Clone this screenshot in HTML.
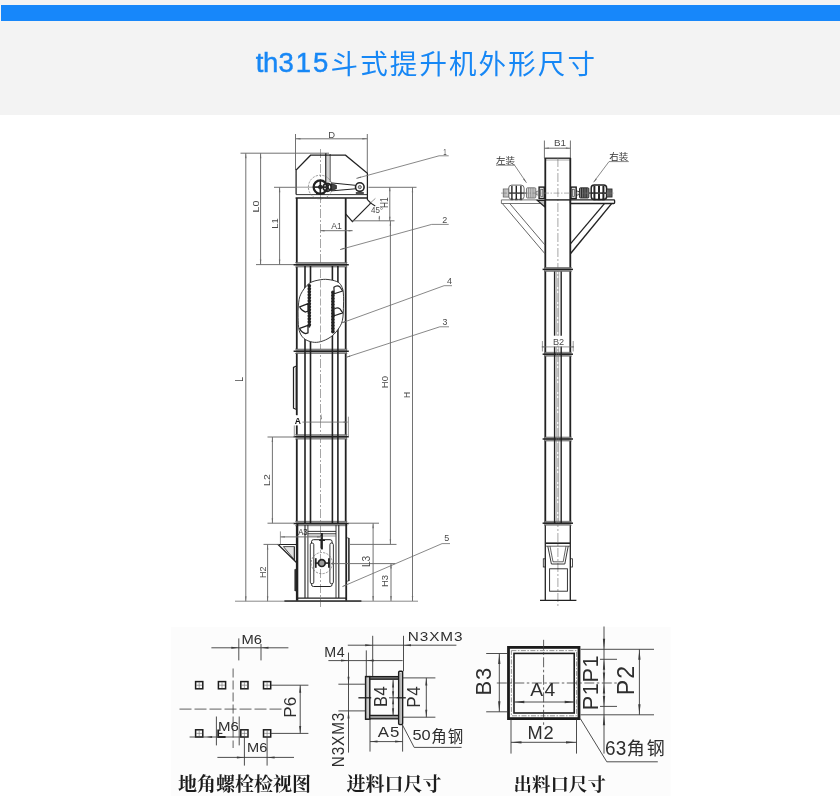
<!DOCTYPE html>
<html lang="zh-CN">
<head>
<meta charset="utf-8">
<title>th315斗式提升机外形尺寸</title>
<style>
html,body{margin:0;padding:0;background:#fff;}
body{width:840px;height:808px;overflow:hidden;position:relative;font-family:"Liberation Sans",sans-serif;}
.head{position:absolute;left:0;top:0;width:840px;height:115px;background:#f3f3f3;}
.bar{position:absolute;left:1px;top:5px;width:839px;height:16px;background:#1787fa;}
.title{position:absolute;left:0;top:0;width:840px;height:115px;}
.drawing{position:absolute;left:0;top:0;width:840px;height:808px;}
svg text{font-family:"Liberation Sans",sans-serif;}
</style>
</head>
<body>
<div class="head">
<div class="bar"></div>
<svg class="title" width="840" height="115" viewBox="0 0 840 115" role="img" aria-label="th315斗式提升机外形尺寸">
<title>th315斗式提升机外形尺寸</title>
<defs><filter id="hsoft" x="-2%" y="-10%" width="104%" height="120%"><feGaussianBlur stdDeviation="0.25"/></filter></defs>
<g filter="url(#hsoft)">
<text x="255.8 262.9 278.5 295.8 313.1" y="72.2" font-family="'Liberation Sans', sans-serif" font-size="27.5" fill="#1987f5" stroke="#1987f5" stroke-width="0.45">th315</text>
<text x="330.6" y="73.6" font-size="27.5" letter-spacing="2.1" fill="#1987f5" style="font-family:'Liberation Sans','Noto Sans CJK SC',sans-serif">斗式提升机外形尺寸</text>
</g>
</svg>
</div>
<svg class="drawing" width="840" height="808" viewBox="0 0 840 808">
<defs><filter id="soft" x="-2%" y="-2%" width="104%" height="104%"><feGaussianBlur stdDeviation="0.3"/></filter><filter id="tsoft" x="-2%" y="-2%" width="104%" height="104%"><feGaussianBlur stdDeviation="0.22"/></filter></defs>
<g filter="url(#soft)">
<line x1="295.5" y1="134" x2="295.5" y2="170" stroke="#6a6a6a" stroke-width="0.95"/>
<line x1="367.3" y1="134" x2="367.3" y2="173" stroke="#6a6a6a" stroke-width="0.95"/>
<line x1="295.5" y1="138.8" x2="367.3" y2="138.8" stroke="#6a6a6a" stroke-width="0.95"/>
<polygon points="295.5,138.8 300.5,138.1 300.5,139.5" fill="#6a6a6a"/>
<polygon points="367.3,138.8 362.3,139.5 362.3,138.1" fill="#6a6a6a"/>
<line x1="240.5" y1="153.2" x2="329" y2="153.2" stroke="#6a6a6a" stroke-width="0.95"/>
<line x1="274" y1="187.3" x2="295.5" y2="187.3" stroke="#6a6a6a" stroke-width="0.95"/>
<line x1="368.5" y1="187.3" x2="416.5" y2="187.3" stroke="#6a6a6a" stroke-width="0.95"/>
<line x1="256" y1="264.6" x2="295" y2="264.6" stroke="#6a6a6a" stroke-width="0.95"/>
<line x1="245.8" y1="153.2" x2="245.8" y2="601.2" stroke="#6a6a6a" stroke-width="0.95"/>
<polygon points="245.8,153.2 246.5,158.2 245.1,158.2" fill="#6a6a6a"/>
<polygon points="245.8,601.2 245.1,596.2 246.5,596.2" fill="#6a6a6a"/>
<line x1="260.6" y1="153.2" x2="260.6" y2="264.6" stroke="#6a6a6a" stroke-width="0.95"/>
<polygon points="260.6,153.2 261.3,158.2 259.9,158.2" fill="#6a6a6a"/>
<polygon points="260.6,264.6 259.9,259.6 261.3,259.6" fill="#6a6a6a"/>
<line x1="279.6" y1="187.3" x2="279.6" y2="264.6" stroke="#6a6a6a" stroke-width="0.95"/>
<polygon points="279.6,187.3 280.3,192.3 278.9,192.3" fill="#6a6a6a"/>
<polygon points="279.6,264.6 278.9,259.6 280.3,259.6" fill="#6a6a6a"/>
<line x1="320.5" y1="149" x2="320.5" y2="607" stroke="#6a6a6a" stroke-width="0.6" stroke-dasharray="9 2 2 2"/>
<polyline points="296.1,194.6 296.1,170 310.6,155.2 345.5,155.2 367.4,173.2 367.4,199.6 370.8,203.1 352.4,221.6 345.4,213.7" fill="none" stroke="#222222" stroke-width="1.25" stroke-linejoin="miter"/>
<line x1="296" y1="194.6" x2="367.2" y2="194.6" stroke="#222222" stroke-width="0.9"/>
<line x1="295.6" y1="198" x2="367.5" y2="198" stroke="#222222" stroke-width="1.5"/>
<line x1="325.8" y1="153.3" x2="325.8" y2="182" stroke="#222222" stroke-width="1.3"/>
<line x1="328" y1="154" x2="328" y2="182" stroke="#6a6a6a" stroke-width="0.6"/>
<line x1="330.1" y1="154" x2="330.1" y2="182" stroke="#222222" stroke-width="0.9"/>
<circle cx="320.3" cy="187.1" r="11.9" fill="none" stroke="#6a6a6a" stroke-width="0.7" stroke-dasharray="2.2 1.2"/>
<line x1="296" y1="187.2" x2="313" y2="187.2" stroke="#6a6a6a" stroke-width="0.7"/>
<circle cx="320.3" cy="187.1" r="6.7" fill="none" stroke="#222222" stroke-width="2.2"/>
<circle cx="320.3" cy="187.1" r="1.9" fill="#888" stroke="#222222" stroke-width="1.0"/>
<line x1="320.3" y1="180.4" x2="320.3" y2="193.8" stroke="#222222" stroke-width="1.6"/>
<line x1="313.6" y1="187.1" x2="327" y2="187.1" stroke="#222222" stroke-width="1.6"/>
<line x1="316" y1="193.6" x2="324.6" y2="193.6" stroke="#222222" stroke-width="1.6"/>
<circle cx="327.2" cy="187.3" r="4" fill="none" stroke="#222222" stroke-width="1.8"/>
<circle cx="327.2" cy="187.3" r="1.1" fill="#666" stroke="#222222" stroke-width="0.8"/>
<line x1="327.2" y1="183.4" x2="327.2" y2="191.2" stroke="#222222" stroke-width="1.0"/>
<circle cx="330.6" cy="187.1" r="2.7" fill="none" stroke="#222222" stroke-width="1.4"/>
<line x1="331.2" y1="182.9" x2="355.4" y2="185.3" stroke="#222222" stroke-width="1.0"/>
<line x1="331.2" y1="190.9" x2="355.4" y2="188.8" stroke="#222222" stroke-width="1.0"/>
<polygon points="331.4,183.6 336.4,185.4 336.4,188.8 331.4,190.4" fill="#444" stroke="#222222" stroke-width="0.8" stroke-linejoin="miter"/>
<circle cx="359.8" cy="187.1" r="4.3" fill="none" stroke="#222222" stroke-width="1.6"/>
<circle cx="359.8" cy="187.1" r="1.6" fill="#bbb" stroke="#555" stroke-width="0.9"/>
<line x1="355.8" y1="193" x2="363.8" y2="193" stroke="#222222" stroke-width="1.6"/>
<line x1="369" y1="204.2" x2="375.4" y2="198.4" stroke="#6a6a6a" stroke-width="0.7"/>
<line x1="370.8" y1="203.1" x2="375.2" y2="206" stroke="#222222" stroke-width="1.1"/>
<line x1="379.3" y1="216" x2="379.3" y2="221" stroke="#6a6a6a" stroke-width="0.7"/>
<polygon points="379.3,215.2 379.95,218.7 378.65,218.7" fill="#6a6a6a"/>
<line x1="352.4" y1="220.8" x2="394.5" y2="220.8" stroke="#6a6a6a" stroke-width="0.95"/>
<line x1="296.8" y1="198" x2="296.8" y2="415.2" stroke="#222222" stroke-width="1.8"/>
<line x1="296.8" y1="425.4" x2="296.8" y2="601" stroke="#222222" stroke-width="1.8"/>
<line x1="345.7" y1="198" x2="345.7" y2="523" stroke="#222222" stroke-width="1.8"/>
<line x1="320.5" y1="230.7" x2="352.6" y2="230.7" stroke="#6a6a6a" stroke-width="0.95"/>
<polygon points="320.5,230.7 324.5,230 324.5,231.4" fill="#6a6a6a"/>
<polygon points="352.6,230.7 348.6,231.4 348.6,230" fill="#6a6a6a"/>
<rect x="296" y="262.5" width="50.2" height="4.5" fill="#9a9a9a"/>
<line x1="293.6" y1="264.7" x2="348.8" y2="264.7" stroke="#222222" stroke-width="1.5"/>
<line x1="295" y1="262.6" x2="347.4" y2="262.6" stroke="#555" stroke-width="0.6"/>
<line x1="295" y1="267" x2="347.4" y2="267" stroke="#555" stroke-width="0.6"/>
<rect x="296" y="349" width="50.2" height="4.5" fill="#9a9a9a"/>
<line x1="293.6" y1="351.2" x2="348.8" y2="351.2" stroke="#222222" stroke-width="1.5"/>
<line x1="295" y1="349.1" x2="347.4" y2="349.1" stroke="#555" stroke-width="0.6"/>
<line x1="295" y1="353.5" x2="347.4" y2="353.5" stroke="#555" stroke-width="0.6"/>
<rect x="296" y="434.6" width="50.2" height="4.5" fill="#9a9a9a"/>
<line x1="293.6" y1="436.8" x2="348.8" y2="436.8" stroke="#222222" stroke-width="1.5"/>
<line x1="295" y1="434.7" x2="347.4" y2="434.7" stroke="#555" stroke-width="0.6"/>
<line x1="295" y1="439.1" x2="347.4" y2="439.1" stroke="#555" stroke-width="0.6"/>
<rect x="296" y="521.2" width="50.2" height="4.5" fill="#9a9a9a"/>
<line x1="293.6" y1="523.4" x2="348.8" y2="523.4" stroke="#222222" stroke-width="1.5"/>
<line x1="295" y1="521.3" x2="347.4" y2="521.3" stroke="#555" stroke-width="0.6"/>
<line x1="295" y1="525.7" x2="347.4" y2="525.7" stroke="#555" stroke-width="0.6"/>
<line x1="305" y1="266" x2="305" y2="523" stroke="#222222" stroke-width="1.6"/>
<line x1="310.5" y1="266" x2="310.5" y2="523" stroke="#222222" stroke-width="1.6"/>
<line x1="332.4" y1="266" x2="332.4" y2="523" stroke="#222222" stroke-width="1.6"/>
<line x1="337.9" y1="266" x2="337.9" y2="523" stroke="#222222" stroke-width="1.6"/>
<path d="M320.8 279.7 C317.3 280.3 312.53 280.98 309.2 283.4 C305.87 285.82 302.6 290.6 300.8 294.2 C299 297.8 298.85 301.12 298.4 305 C297.95 308.88 297.97 313.25 298.1 317.5 C298.23 321.75 298.23 327.02 299.2 330.5 C300.17 333.98 301.7 336.47 303.9 338.4 C306.1 340.33 309.58 341.57 312.4 342.1 C315.22 342.63 317.83 342.4 320.8 341.6 C323.77 340.8 327.4 339.23 330.2 337.3 C333 335.37 335.57 332.8 337.6 330 C339.63 327.2 341.42 324.67 342.4 320.5 C343.38 316.33 343.33 309.42 343.5 305 C343.67 300.58 343.62 296.9 343.4 294 C343.18 291.1 343.03 289.53 342.2 287.6 C341.37 285.67 340.4 283.7 338.4 282.4 C336.4 281.1 333.13 280.25 330.2 279.8 C327.27 279.35 324.3 279.1 320.8 279.7Z" fill="#fff" stroke="#222222" stroke-width="0.9"/>
<line x1="320.5" y1="280.5" x2="320.5" y2="341.5" stroke="#888" stroke-width="0.7" stroke-dasharray="7 2"/>
<line x1="309.3" y1="284.6" x2="309.3" y2="327.6" stroke="#222222" stroke-width="1.6"/>
<circle cx="309.3" cy="285.8" r="1.85" fill="#222222"/>
<circle cx="309.3" cy="288.8" r="1.85" fill="#222222"/>
<circle cx="309.3" cy="291.8" r="1.85" fill="#222222"/>
<circle cx="309.3" cy="294.8" r="1.85" fill="#222222"/>
<circle cx="309.3" cy="297.8" r="1.85" fill="#222222"/>
<circle cx="309.3" cy="300.8" r="1.85" fill="#222222"/>
<circle cx="309.3" cy="303.8" r="1.85" fill="#222222"/>
<circle cx="309.3" cy="306.8" r="1.85" fill="#222222"/>
<circle cx="309.3" cy="309.8" r="1.85" fill="#222222"/>
<circle cx="309.3" cy="312.8" r="1.85" fill="#222222"/>
<circle cx="309.3" cy="315.8" r="1.85" fill="#222222"/>
<circle cx="309.3" cy="318.8" r="1.85" fill="#222222"/>
<circle cx="309.3" cy="321.8" r="1.85" fill="#222222"/>
<circle cx="309.3" cy="324.8" r="1.85" fill="#222222"/>
<line x1="332.9" y1="291.2" x2="332.9" y2="333.2" stroke="#222222" stroke-width="1.6"/>
<circle cx="332.9" cy="292.4" r="1.85" fill="#222222"/>
<circle cx="332.9" cy="295.4" r="1.85" fill="#222222"/>
<circle cx="332.9" cy="298.4" r="1.85" fill="#222222"/>
<circle cx="332.9" cy="301.4" r="1.85" fill="#222222"/>
<circle cx="332.9" cy="304.4" r="1.85" fill="#222222"/>
<circle cx="332.9" cy="307.4" r="1.85" fill="#222222"/>
<circle cx="332.9" cy="310.4" r="1.85" fill="#222222"/>
<circle cx="332.9" cy="313.4" r="1.85" fill="#222222"/>
<circle cx="332.9" cy="316.4" r="1.85" fill="#222222"/>
<circle cx="332.9" cy="319.4" r="1.85" fill="#222222"/>
<circle cx="332.9" cy="322.4" r="1.85" fill="#222222"/>
<circle cx="332.9" cy="325.4" r="1.85" fill="#222222"/>
<circle cx="332.9" cy="328.4" r="1.85" fill="#222222"/>
<circle cx="332.9" cy="331.4" r="1.85" fill="#222222"/>
<path d="M308 303.7 L299.7 306.8 Q301.4 310.8 305.6 312 L308 311.2 Z" fill="#fff" stroke="#222222" stroke-width="1.3" stroke-linejoin="round"/>
<path d="M308 325.3 L299.7 328.4 Q301.4 332.4 305.6 333.6 L308 332.8 Z" fill="#fff" stroke="#222222" stroke-width="1.3" stroke-linejoin="round"/>
<path d="M333.9 287.3 Q337.2 284.6 340 287 L342.7 291 L334.2 293.8 Z" fill="#fff" stroke="#222222" stroke-width="1.2" stroke-linejoin="round"/>
<path d="M333.9 309.2 Q337.2 306.5 340 308.9 L342.7 312.9 L334.2 315.7 Z" fill="#fff" stroke="#222222" stroke-width="1.2" stroke-linejoin="round"/>
<polyline points="296.4,366 293.5,367.4 293.5,408.2 296.4,409.4" fill="none" stroke="#222222" stroke-width="1.2" stroke-linejoin="miter"/>
<line x1="295.5" y1="367.6" x2="295.5" y2="408" stroke="#6a6a6a" stroke-width="0.6"/>
<line x1="294.3" y1="425.4" x2="294.3" y2="437" stroke="#6a6a6a" stroke-width="0.7"/>
<line x1="348.4" y1="416.7" x2="348.4" y2="436" stroke="#6a6a6a" stroke-width="0.7"/>
<line x1="302.4" y1="422.1" x2="347.6" y2="422.1" stroke="#6a6a6a" stroke-width="0.8"/>
<polygon points="347.6,422.1 343.6,422.75 343.6,421.45" fill="#6a6a6a"/>
<polygon points="321.1,413.3 321.85,419.3 320.35,419.3" fill="#6a6a6a"/>
<line x1="267.5" y1="437" x2="294" y2="437" stroke="#6a6a6a" stroke-width="0.95"/>
<line x1="267.5" y1="523.2" x2="294" y2="523.2" stroke="#6a6a6a" stroke-width="0.95"/>
<line x1="272.4" y1="437" x2="272.4" y2="523.2" stroke="#6a6a6a" stroke-width="0.95"/>
<polygon points="272.4,437 273.1,442 271.7,442" fill="#6a6a6a"/>
<polygon points="272.4,523.2 271.7,518.2 273.1,518.2" fill="#6a6a6a"/>
<line x1="297.4" y1="523" x2="297.4" y2="601" stroke="#222222" stroke-width="1.8"/>
<line x1="346.2" y1="523" x2="346.2" y2="601" stroke="#222222" stroke-width="1.8"/>
<line x1="305" y1="525" x2="305" y2="598" stroke="#222222" stroke-width="1.1"/>
<line x1="307.9" y1="525" x2="307.9" y2="598" stroke="#222222" stroke-width="0.9"/>
<line x1="336" y1="525" x2="336" y2="598" stroke="#222222" stroke-width="0.9"/>
<line x1="338.8" y1="525" x2="338.8" y2="598" stroke="#222222" stroke-width="1.1"/>
<line x1="297" y1="598.2" x2="346.6" y2="598.2" stroke="#222222" stroke-width="1.3"/>
<line x1="284.4" y1="601.2" x2="361.4" y2="601.2" stroke="#222222" stroke-width="1.7"/>
<line x1="235" y1="601.2" x2="418" y2="601.2" stroke="#6a6a6a" stroke-width="0.8"/>
<line x1="307.9" y1="531.4" x2="336" y2="531.4" stroke="#222222" stroke-width="0.9"/>
<line x1="307.9" y1="533.8" x2="336" y2="533.8" stroke="#222222" stroke-width="0.9"/>
<line x1="307.9" y1="536" x2="336" y2="536" stroke="#6a6a6a" stroke-width="0.7"/>
<rect x="311.5" y="539.7" width="20.6" height="46.8" rx="2" fill="none" stroke="#222222" stroke-width="1.0"/>
<rect x="310.3" y="543" width="3.5" height="40.8" rx="1.7" fill="#fff" stroke="#222222" stroke-width="0.9"/>
<rect x="329.9" y="543" width="3.5" height="40.8" rx="1.7" fill="#fff" stroke="#222222" stroke-width="0.9"/>
<circle cx="321.8" cy="563.1" r="10.6" fill="none" stroke="#6a6a6a" stroke-width="0.7" stroke-dasharray="2.2 1.2"/>
<circle cx="321.8" cy="563.1" r="3.4" fill="#999" stroke="#222222" stroke-width="1.7"/>
<line x1="314.9" y1="563.1" x2="318.4" y2="563.1" stroke="#222222" stroke-width="1.6"/>
<line x1="325.2" y1="563.1" x2="329.9" y2="563.1" stroke="#222222" stroke-width="1.6"/>
<line x1="315.8" y1="558.2" x2="315.8" y2="567.8" stroke="#222222" stroke-width="1.7"/>
<line x1="328.9" y1="558.2" x2="328.9" y2="567.8" stroke="#222222" stroke-width="1.7"/>
<line x1="321.8" y1="533" x2="321.8" y2="549.4" stroke="#222222" stroke-width="2.2"/>
<line x1="319.2" y1="540.4" x2="325" y2="540.4" stroke="#222222" stroke-width="1.2"/>
<polyline points="297.4,544.5 278.1,544.5 297.2,563.3" fill="none" stroke="#222222" stroke-width="1.2" stroke-linejoin="miter"/>
<polygon points="294.3,546.6 283.4,546.6 294.3,559.6" fill="#e2e2e2" stroke="#222222" stroke-width="0.8" stroke-linejoin="miter"/>
<line x1="294.4" y1="546.6" x2="294.4" y2="560" stroke="#222222" stroke-width="0.8"/>
<line x1="295.2" y1="569.2" x2="295.2" y2="591" stroke="#222222" stroke-width="1.5"/>
<line x1="295.2" y1="569.4" x2="297.4" y2="568.6" stroke="#222222" stroke-width="0.7"/>
<line x1="295.2" y1="590.8" x2="297.4" y2="591.6" stroke="#222222" stroke-width="0.7"/>
<line x1="348.9" y1="538" x2="348.9" y2="581" stroke="#222222" stroke-width="1.5"/>
<line x1="346.4" y1="537.6" x2="348.9" y2="538.2" stroke="#222222" stroke-width="0.7"/>
<line x1="346.4" y1="581.4" x2="348.9" y2="580.8" stroke="#222222" stroke-width="0.7"/>
<line x1="280.4" y1="531.4" x2="280.4" y2="544.4" stroke="#6a6a6a" stroke-width="0.7"/>
<line x1="280.4" y1="536.9" x2="321.6" y2="536.9" stroke="#6a6a6a" stroke-width="0.95"/>
<polygon points="280.4,536.9 284.9,536.25 284.9,537.55" fill="#6a6a6a"/>
<polygon points="321.6,536.9 317.1,537.55 317.1,536.25" fill="#6a6a6a"/>
<line x1="263.5" y1="544.4" x2="279" y2="544.4" stroke="#6a6a6a" stroke-width="0.95"/>
<line x1="267.6" y1="544.4" x2="267.6" y2="601.2" stroke="#6a6a6a" stroke-width="0.95"/>
<polygon points="267.6,544.4 268.3,549.4 266.9,549.4" fill="#6a6a6a"/>
<polygon points="267.6,601.2 266.9,596.2 268.3,596.2" fill="#6a6a6a"/>
<line x1="348.5" y1="523.2" x2="379" y2="523.2" stroke="#6a6a6a" stroke-width="0.95"/>
<line x1="373.1" y1="523.3" x2="373.1" y2="601" stroke="#6a6a6a" stroke-width="0.95"/>
<polygon points="373.1,523.3 373.8,528.3 372.4,528.3" fill="#6a6a6a"/>
<polygon points="373.1,601 372.4,596 373.8,596" fill="#6a6a6a"/>
<line x1="350" y1="544.4" x2="396.5" y2="544.4" stroke="#6a6a6a" stroke-width="0.95"/>
<line x1="331" y1="563.6" x2="395.2" y2="563.6" stroke="#6a6a6a" stroke-width="0.95"/>
<line x1="391" y1="563.6" x2="391" y2="601" stroke="#6a6a6a" stroke-width="0.95"/>
<polygon points="391,563.6 391.7,568.6 390.3,568.6" fill="#6a6a6a"/>
<polygon points="391,601 390.3,596 391.7,596" fill="#6a6a6a"/>
<line x1="390.4" y1="220.8" x2="390.4" y2="544.2" stroke="#6a6a6a" stroke-width="0.95"/>
<polygon points="390.4,220.8 391.1,225.8 389.7,225.8" fill="#6a6a6a"/>
<polygon points="390.4,544.2 389.7,539.2 391.1,539.2" fill="#6a6a6a"/>
<line x1="389.8" y1="187.3" x2="389.8" y2="220.8" stroke="#6a6a6a" stroke-width="0.95"/>
<polygon points="389.8,187.3 390.5,191.3 389.1,191.3" fill="#6a6a6a"/>
<polygon points="389.8,220.8 389.1,216.8 390.5,216.8" fill="#6a6a6a"/>
<line x1="412.5" y1="187.3" x2="412.5" y2="601" stroke="#6a6a6a" stroke-width="0.95"/>
<polygon points="412.5,187.3 413.2,192.3 411.8,192.3" fill="#6a6a6a"/>
<polygon points="412.5,601 411.8,596 413.2,596" fill="#6a6a6a"/>
<line x1="356.4" y1="178.4" x2="439.1" y2="155.8" stroke="#6a6a6a" stroke-width="0.8"/>
<line x1="439.1" y1="155.8" x2="448.7" y2="155.8" stroke="#6a6a6a" stroke-width="0.8"/>
<polygon points="356.4,178.4 360.57,176.59 360.91,177.84" fill="#6a6a6a"/>
<line x1="340" y1="249.6" x2="431.7" y2="224.4" stroke="#6a6a6a" stroke-width="0.8"/>
<line x1="431.7" y1="224.4" x2="448.7" y2="224.4" stroke="#6a6a6a" stroke-width="0.8"/>
<polygon points="340,249.6 344.17,247.78 344.51,249.03" fill="#6a6a6a"/>
<line x1="341" y1="323.2" x2="444.1" y2="285.7" stroke="#6a6a6a" stroke-width="0.8"/>
<line x1="444.1" y1="285.7" x2="452" y2="285.7" stroke="#6a6a6a" stroke-width="0.8"/>
<polygon points="341,323.2 345.01,321.05 345.45,322.27" fill="#6a6a6a"/>
<line x1="345.8" y1="357.4" x2="439.8" y2="326.8" stroke="#6a6a6a" stroke-width="0.8"/>
<line x1="439.8" y1="326.8" x2="449" y2="326.8" stroke="#6a6a6a" stroke-width="0.8"/>
<polygon points="345.8,357.4 349.88,355.39 350.28,356.63" fill="#6a6a6a"/>
<line x1="342.4" y1="586.6" x2="442.1" y2="543.6" stroke="#6a6a6a" stroke-width="0.8"/>
<line x1="442.1" y1="543.6" x2="450" y2="543.6" stroke="#6a6a6a" stroke-width="0.8"/>
<polygon points="342.4,586.6 346.27,584.22 346.79,585.41" fill="#6a6a6a"/>
<line x1="544.4" y1="140.5" x2="544.4" y2="158" stroke="#6a6a6a" stroke-width="0.95"/>
<line x1="570.4" y1="140.5" x2="570.4" y2="158" stroke="#6a6a6a" stroke-width="0.95"/>
<line x1="544.4" y1="148.2" x2="570.4" y2="148.2" stroke="#6a6a6a" stroke-width="0.95"/>
<polygon points="544.4,148.2 548.9,147.55 548.9,148.85" fill="#6a6a6a"/>
<polygon points="570.4,148.2 565.9,148.85 565.9,147.55" fill="#6a6a6a"/>
<line x1="544.6" y1="158.2" x2="570.6" y2="158.2" stroke="#222222" stroke-width="1.3"/>
<line x1="545" y1="160" x2="570.4" y2="160" stroke="#6a6a6a" stroke-width="0.6"/>
<line x1="545.3" y1="158" x2="545.3" y2="523" stroke="#222222" stroke-width="1.8"/>
<line x1="570.3" y1="158" x2="570.3" y2="523" stroke="#222222" stroke-width="1.8"/>
<line x1="545.3" y1="523" x2="545.3" y2="600" stroke="#222222" stroke-width="1.3"/>
<line x1="570.3" y1="523" x2="570.3" y2="600" stroke="#222222" stroke-width="1.3"/>
<line x1="557.9" y1="158" x2="557.9" y2="606" stroke="#6a6a6a" stroke-width="0.6" stroke-dasharray="9 2 2 2"/>
<line x1="545" y1="199.9" x2="570.6" y2="199.9" stroke="#222222" stroke-width="1.4"/>
<text x="496" y="163.5" font-size="9.5" fill="#333" style="font-family:'Liberation Sans','Noto Sans CJK SC',sans-serif">左装</text>
<line x1="496" y1="165.2" x2="515" y2="165.2" stroke="#6a6a6a" stroke-width="0.8"/>
<line x1="514.6" y1="165.2" x2="526.5" y2="182.8" stroke="#6a6a6a" stroke-width="0.8"/>
<polygon points="526.3,182.5 523.12,179.24 524.26,178.43" fill="#6a6a6a"/>
<text x="609.2" y="160.2" font-size="9.5" fill="#333" style="font-family:'Liberation Sans','Noto Sans CJK SC',sans-serif">右装</text>
<line x1="609" y1="161.6" x2="628.8" y2="161.6" stroke="#6a6a6a" stroke-width="0.8"/>
<line x1="609" y1="161.6" x2="593.6" y2="182.2" stroke="#6a6a6a" stroke-width="0.8"/>
<polygon points="593.6,182.5 595.69,178.46 596.82,179.28" fill="#6a6a6a"/>
<rect x="539.1" y="187.1" width="5.2" height="11.5" rx="0" fill="#ddd" stroke="#222222" stroke-width="1.4"/>
<rect x="540.7" y="189.4" width="2.1" height="7" rx="0" fill="none" stroke="#555" stroke-width="0.7"/>
<polyline points="539.1,190.8 535.8,191.8 535.8,194.4 539.1,195.4" fill="none" stroke="#6a6a6a" stroke-width="0.8" stroke-linejoin="miter"/>
<rect x="526.5" y="187.8" width="9.3" height="10.2" rx="1" fill="#d8d8d8" stroke="#6a6a6a" stroke-width="0.9"/>
<line x1="533.9" y1="188" x2="533.9" y2="197.8" stroke="#777" stroke-width="0.7"/>
<line x1="532.1" y1="188" x2="532.1" y2="197.8" stroke="#777" stroke-width="0.7"/>
<line x1="530.3" y1="188" x2="530.3" y2="197.8" stroke="#777" stroke-width="0.7"/>
<line x1="528.5" y1="188" x2="528.5" y2="197.8" stroke="#777" stroke-width="0.7"/>
<line x1="526.5" y1="193.1" x2="524.1" y2="193.1" stroke="#6a6a6a" stroke-width="1.3"/>
<rect x="508.7" y="185.1" width="15.4" height="14.3" rx="3" fill="#fff" stroke="#6a6a6a" stroke-width="1.0"/>
<line x1="520.9" y1="185.8" x2="520.9" y2="199.6" stroke="#222222" stroke-width="1.4"/>
<line x1="516.3" y1="185.8" x2="516.3" y2="199.6" stroke="#222222" stroke-width="1.4"/>
<line x1="511.9" y1="185.8" x2="511.9" y2="199.6" stroke="#222222" stroke-width="1.4"/>
<line x1="524.1" y1="193.1" x2="508.7" y2="193.1" stroke="#222222" stroke-width="1.3"/>
<line x1="519.6" y1="199.5" x2="522.2" y2="199.5" stroke="#222222" stroke-width="1.4"/>
<line x1="515" y1="199.5" x2="517.6" y2="199.5" stroke="#222222" stroke-width="1.4"/>
<line x1="510.6" y1="199.5" x2="513.2" y2="199.5" stroke="#222222" stroke-width="1.4"/>
<rect x="503.3" y="189" width="5.4" height="8" rx="0" fill="#ddd" stroke="#6a6a6a" stroke-width="0.9"/>
<line x1="507.1" y1="189.2" x2="507.1" y2="196.8" stroke="#999" stroke-width="0.6"/>
<line x1="505.7" y1="189.2" x2="505.7" y2="196.8" stroke="#999" stroke-width="0.6"/>
<line x1="504.5" y1="189.2" x2="504.5" y2="196.8" stroke="#999" stroke-width="0.6"/>
<rect x="571" y="187.1" width="5.2" height="11.5" rx="0" fill="#ddd" stroke="#222222" stroke-width="1.4"/>
<rect x="572.5" y="189.4" width="2.1" height="7" rx="0" fill="none" stroke="#555" stroke-width="0.7"/>
<polyline points="576.2,190.8 579.5,191.8 579.5,194.4 576.2,195.4" fill="none" stroke="#222222" stroke-width="0.8" stroke-linejoin="miter"/>
<rect x="579.5" y="187.8" width="9.3" height="10.2" rx="1" fill="#8a8a8a" stroke="#222222" stroke-width="0.9"/>
<line x1="581.4" y1="188" x2="581.4" y2="197.8" stroke="#222222" stroke-width="1.0"/>
<line x1="583.2" y1="188" x2="583.2" y2="197.8" stroke="#222222" stroke-width="1.0"/>
<line x1="585" y1="188" x2="585" y2="197.8" stroke="#222222" stroke-width="1.0"/>
<line x1="586.8" y1="188" x2="586.8" y2="197.8" stroke="#222222" stroke-width="1.0"/>
<line x1="588.8" y1="193.1" x2="591.2" y2="193.1" stroke="#222222" stroke-width="1.3"/>
<rect x="591.2" y="185.1" width="15.4" height="14.3" rx="3" fill="#fff" stroke="#222222" stroke-width="1.5"/>
<line x1="594.4" y1="185.8" x2="594.4" y2="199.6" stroke="#222222" stroke-width="2.0"/>
<line x1="599" y1="185.8" x2="599" y2="199.6" stroke="#222222" stroke-width="2.0"/>
<line x1="603.4" y1="185.8" x2="603.4" y2="199.6" stroke="#222222" stroke-width="2.0"/>
<line x1="591.2" y1="193.1" x2="606.6" y2="193.1" stroke="#222222" stroke-width="1.6"/>
<line x1="593.1" y1="199.5" x2="595.7" y2="199.5" stroke="#222222" stroke-width="1.4"/>
<line x1="597.7" y1="199.5" x2="600.3" y2="199.5" stroke="#222222" stroke-width="1.4"/>
<line x1="602.1" y1="199.5" x2="604.7" y2="199.5" stroke="#222222" stroke-width="1.4"/>
<rect x="606.6" y="189" width="5.4" height="8" rx="0" fill="#777" stroke="#222222" stroke-width="0.9"/>
<line x1="608.2" y1="189.2" x2="608.2" y2="196.8" stroke="#444" stroke-width="0.6"/>
<line x1="609.6" y1="189.2" x2="609.6" y2="196.8" stroke="#444" stroke-width="0.6"/>
<line x1="610.8" y1="189.2" x2="610.8" y2="196.8" stroke="#444" stroke-width="0.6"/>
<line x1="501" y1="193.1" x2="614" y2="193.1" stroke="#777" stroke-width="0.6" stroke-dasharray="6 1.5 1.5 1.5"/>
<line x1="501.4" y1="199.9" x2="538" y2="199.9" stroke="#666" stroke-width="0.9"/>
<line x1="501.4" y1="203.5" x2="545" y2="203.5" stroke="#666" stroke-width="0.9"/>
<line x1="501.4" y1="199.9" x2="501.4" y2="203.5" stroke="#666" stroke-width="0.9"/>
<polygon points="537.4,200.4 544.8,200.4 544.8,206.9" fill="#bbb" stroke="#222222" stroke-width="1.3" stroke-linejoin="miter"/>
<rect x="570.4" y="199.9" width="44.2" height="3.6" rx="0.8" fill="none" stroke="#222222" stroke-width="1.3"/>
<line x1="502.4" y1="203.6" x2="545" y2="253.8" stroke="#555" stroke-width="0.9"/>
<line x1="509.8" y1="203.6" x2="545" y2="245" stroke="#555" stroke-width="0.9"/>
<line x1="611.6" y1="203.6" x2="570.4" y2="253.8" stroke="#222222" stroke-width="1.4"/>
<line x1="604.4" y1="203.6" x2="570.4" y2="243.8" stroke="#222222" stroke-width="1.3"/>
<rect x="544.6" y="267.5" width="26.4" height="3.9" fill="#9a9a9a"/>
<line x1="542.6" y1="269.4" x2="573" y2="269.4" stroke="#222222" stroke-width="1.5"/>
<line x1="544" y1="267.5" x2="571.8" y2="267.5" stroke="#555" stroke-width="0.6"/>
<line x1="544" y1="271.4" x2="571.8" y2="271.4" stroke="#555" stroke-width="0.6"/>
<rect x="544.6" y="352.3" width="26.4" height="3.9" fill="#9a9a9a"/>
<line x1="542.6" y1="354.2" x2="573" y2="354.2" stroke="#222222" stroke-width="1.5"/>
<line x1="544" y1="352.3" x2="571.8" y2="352.3" stroke="#555" stroke-width="0.6"/>
<line x1="544" y1="356.2" x2="571.8" y2="356.2" stroke="#555" stroke-width="0.6"/>
<rect x="544.6" y="437.1" width="26.4" height="3.9" fill="#9a9a9a"/>
<line x1="542.6" y1="439" x2="573" y2="439" stroke="#222222" stroke-width="1.5"/>
<line x1="544" y1="437.1" x2="571.8" y2="437.1" stroke="#555" stroke-width="0.6"/>
<line x1="544" y1="441" x2="571.8" y2="441" stroke="#555" stroke-width="0.6"/>
<rect x="544.6" y="521.3" width="26.4" height="3.9" fill="#9a9a9a"/>
<line x1="542.6" y1="523.2" x2="573" y2="523.2" stroke="#222222" stroke-width="1.5"/>
<line x1="544" y1="521.3" x2="571.8" y2="521.3" stroke="#555" stroke-width="0.6"/>
<line x1="544" y1="525.2" x2="571.8" y2="525.2" stroke="#555" stroke-width="0.6"/>
<line x1="554.6" y1="271.5" x2="554.6" y2="335.7" stroke="#222222" stroke-width="1.4"/>
<line x1="561.2" y1="271.5" x2="561.2" y2="335.7" stroke="#222222" stroke-width="1.4"/>
<line x1="556.6" y1="271.5" x2="556.6" y2="335.7" stroke="#6a6a6a" stroke-width="0.5"/>
<line x1="558.7" y1="271.5" x2="558.7" y2="335.7" stroke="#6a6a6a" stroke-width="0.5"/>
<line x1="554.6" y1="346.6" x2="554.6" y2="523" stroke="#222222" stroke-width="1.4"/>
<line x1="561.2" y1="346.6" x2="561.2" y2="523" stroke="#222222" stroke-width="1.4"/>
<line x1="556.6" y1="346.6" x2="556.6" y2="523" stroke="#6a6a6a" stroke-width="0.5"/>
<line x1="558.7" y1="346.6" x2="558.7" y2="523" stroke="#6a6a6a" stroke-width="0.5"/>
<rect x="552" y="337" width="13" height="8.6" rx="0" fill="#fff" stroke="none" stroke-width="0"/>
<line x1="542.4" y1="341" x2="542.4" y2="351.5" stroke="#6a6a6a" stroke-width="0.7"/>
<line x1="573.2" y1="341" x2="573.2" y2="351.5" stroke="#6a6a6a" stroke-width="0.7"/>
<line x1="542.4" y1="346.9" x2="573.2" y2="346.9" stroke="#6a6a6a" stroke-width="0.7"/>
<polygon points="545.3,346.9 541.8,347.5 541.8,346.3" fill="#6a6a6a"/>
<polygon points="570.4,346.9 573.9,346.3 573.9,347.5" fill="#6a6a6a"/>
<line x1="540" y1="600.4" x2="576.4" y2="600.4" stroke="#222222" stroke-width="1.4"/>
<line x1="546" y1="543.2" x2="570" y2="543.2" stroke="#222222" stroke-width="1.6"/>
<polyline points="547.8,546.2 551.4,564 564.8,564 568.2,546.2" fill="none" stroke="#222222" stroke-width="0.9" stroke-linejoin="miter"/>
<polyline points="550,546.2 553,561.8 563.2,561.8 566,546.2" fill="none" stroke="#222222" stroke-width="0.7" stroke-linejoin="miter"/>
<line x1="546" y1="546.2" x2="570" y2="546.2" stroke="#222222" stroke-width="0.7"/>
<rect x="543.3" y="558.8" width="2" height="8.2" rx="0" fill="none" stroke="#222222" stroke-width="0.8"/>
<rect x="570.6" y="558.8" width="2" height="8.2" rx="0" fill="none" stroke="#222222" stroke-width="0.8"/>
<rect x="549.6" y="568.8" width="17.8" height="22.4" rx="0" fill="none" stroke="#222222" stroke-width="0.9"/>
<rect x="171" y="627" width="499.5" height="169" fill="#fcfcfc"/>
<rect x="195.6" y="681.6" width="7.2" height="7.2" rx="0" fill="none" stroke="#1e1e1e" stroke-width="1.5"/>
<line x1="199.2" y1="682.2" x2="199.2" y2="688.2" stroke="#666" stroke-width="0.6"/>
<line x1="196.2" y1="685.2" x2="202.2" y2="685.2" stroke="#666" stroke-width="0.6"/>
<rect x="218.4" y="681.6" width="7.2" height="7.2" rx="0" fill="none" stroke="#1e1e1e" stroke-width="1.5"/>
<line x1="222" y1="682.2" x2="222" y2="688.2" stroke="#666" stroke-width="0.6"/>
<line x1="219" y1="685.2" x2="225" y2="685.2" stroke="#666" stroke-width="0.6"/>
<rect x="240.8" y="681.6" width="7.2" height="7.2" rx="0" fill="none" stroke="#1e1e1e" stroke-width="1.5"/>
<line x1="244.4" y1="682.2" x2="244.4" y2="688.2" stroke="#666" stroke-width="0.6"/>
<line x1="241.4" y1="685.2" x2="247.4" y2="685.2" stroke="#666" stroke-width="0.6"/>
<rect x="263.5" y="681.6" width="7.2" height="7.2" rx="0" fill="none" stroke="#1e1e1e" stroke-width="1.5"/>
<line x1="267.1" y1="682.2" x2="267.1" y2="688.2" stroke="#666" stroke-width="0.6"/>
<line x1="264.1" y1="685.2" x2="270.1" y2="685.2" stroke="#666" stroke-width="0.6"/>
<rect x="195.6" y="729.8" width="7.2" height="7.2" rx="0" fill="none" stroke="#1e1e1e" stroke-width="1.5"/>
<line x1="199.2" y1="730.4" x2="199.2" y2="736.4" stroke="#666" stroke-width="0.6"/>
<line x1="196.2" y1="733.4" x2="202.2" y2="733.4" stroke="#666" stroke-width="0.6"/>
<rect x="240.8" y="729.8" width="7.2" height="7.2" rx="0" fill="none" stroke="#1e1e1e" stroke-width="1.5"/>
<line x1="244.4" y1="730.4" x2="244.4" y2="736.4" stroke="#666" stroke-width="0.6"/>
<line x1="241.4" y1="733.4" x2="247.4" y2="733.4" stroke="#666" stroke-width="0.6"/>
<rect x="263.5" y="729.8" width="7.2" height="7.2" rx="0" fill="none" stroke="#1e1e1e" stroke-width="1.5"/>
<line x1="267.1" y1="730.4" x2="267.1" y2="736.4" stroke="#666" stroke-width="0.6"/>
<line x1="264.1" y1="733.4" x2="270.1" y2="733.4" stroke="#666" stroke-width="0.6"/>
<polyline points="218.2,729.6 218.2,737 225.6,737" fill="none" stroke="#1e1e1e" stroke-width="1.8" stroke-linejoin="miter"/>
<line x1="218.2" y1="733.4" x2="222.4" y2="733.4" stroke="#1e1e1e" stroke-width="1.0"/>
<line x1="233.1" y1="668.5" x2="233.1" y2="748" stroke="#3a3a3a" stroke-width="0.8" stroke-dasharray="9 3"/>
<line x1="179.5" y1="709.1" x2="286" y2="709.1" stroke="#3a3a3a" stroke-width="0.8" stroke-dasharray="12 3"/>
<line x1="238.8" y1="638.4" x2="238.8" y2="660.4" stroke="#3a3a3a" stroke-width="0.9"/>
<line x1="261" y1="644" x2="261" y2="660.4" stroke="#3a3a3a" stroke-width="0.9"/>
<line x1="211.4" y1="647.8" x2="288.4" y2="647.8" stroke="#3a3a3a" stroke-width="0.9"/>
<polygon points="238.8,647.8 231.3,648.8 231.3,646.8" fill="#3a3a3a"/>
<polygon points="261,647.8 268.5,646.8 268.5,648.8" fill="#3a3a3a"/>
<line x1="271" y1="685.2" x2="308.4" y2="685.2" stroke="#3a3a3a" stroke-width="0.9"/>
<line x1="271" y1="733.4" x2="308.4" y2="733.4" stroke="#3a3a3a" stroke-width="0.9"/>
<line x1="300.2" y1="685.2" x2="300.2" y2="733.4" stroke="#3a3a3a" stroke-width="0.9"/>
<polygon points="300.2,685.2 301.2,692.7 299.2,692.7" fill="#3a3a3a"/>
<polygon points="300.2,733.4 299.2,725.9 301.2,725.9" fill="#3a3a3a"/>
<line x1="216.4" y1="716.5" x2="216.4" y2="745.4" stroke="#3a3a3a" stroke-width="0.9"/>
<line x1="239.2" y1="716.5" x2="239.2" y2="745.4" stroke="#3a3a3a" stroke-width="0.9"/>
<line x1="189.6" y1="737" x2="244.4" y2="737" stroke="#3a3a3a" stroke-width="0.9"/>
<polygon points="206.6,737 212.1,736 212.1,738" fill="#3a3a3a"/>
<line x1="244.4" y1="737" x2="244.4" y2="765.6" stroke="#3a3a3a" stroke-width="0.9"/>
<line x1="267.1" y1="737" x2="267.1" y2="765.6" stroke="#3a3a3a" stroke-width="0.9"/>
<line x1="217.4" y1="757.4" x2="294" y2="757.4" stroke="#3a3a3a" stroke-width="0.9"/>
<polygon points="244.4,757.4 236.9,758.4 236.9,756.4" fill="#3a3a3a"/>
<polygon points="267.1,757.4 274.6,756.4 274.6,758.4" fill="#3a3a3a"/>
<text x="178" y="790.5" font-size="19" font-weight="bold" fill="#1a1a1a" style="font-family:'Liberation Serif','Noto Serif CJK SC',serif">地角螺栓检视图</text>
<line x1="347.8" y1="645.2" x2="456.4" y2="645.2" stroke="#3a3a3a" stroke-width="0.9"/>
<line x1="372.7" y1="635.8" x2="372.7" y2="676.8" stroke="#3a3a3a" stroke-width="0.9"/>
<line x1="403.5" y1="635.8" x2="403.5" y2="671.4" stroke="#3a3a3a" stroke-width="0.9"/>
<polygon points="372.7,645.2 365.2,646.2 365.2,644.2" fill="#3a3a3a"/>
<polygon points="403.5,645.2 411,644.2 411,646.2" fill="#3a3a3a"/>
<line x1="328.4" y1="660.6" x2="402.6" y2="660.6" stroke="#3a3a3a" stroke-width="0.9"/>
<line x1="348.5" y1="652.6" x2="348.5" y2="752.6" stroke="#3a3a3a" stroke-width="0.9"/>
<line x1="366.3" y1="650.4" x2="366.3" y2="676.8" stroke="#3a3a3a" stroke-width="0.9"/>
<polygon points="348.5,660.6 341,661.6 341,659.6" fill="#3a3a3a"/>
<polygon points="366.3,660.6 373.8,659.6 373.8,661.6" fill="#3a3a3a"/>
<rect x="365.6" y="676.6" width="4.2" height="42.6" rx="0" fill="#c9c9c9" stroke="#1e1e1e" stroke-width="1.5"/>
<rect x="369.8" y="676.6" width="29.2" height="2.6" rx="0" fill="#777" stroke="#1e1e1e" stroke-width="1.3"/>
<rect x="369.8" y="715.4" width="29.2" height="3.4" rx="0" fill="#999" stroke="#1e1e1e" stroke-width="1.3"/>
<rect x="398.7" y="671.2" width="3.9" height="53.2" rx="1" fill="#e4e4e4" stroke="#1e1e1e" stroke-width="1.5"/>
<line x1="400.7" y1="673" x2="400.7" y2="723" stroke="#777" stroke-width="0.5"/>
<line x1="402.6" y1="677.9" x2="435.4" y2="677.9" stroke="#3a3a3a" stroke-width="0.9"/>
<line x1="402.6" y1="717.2" x2="435.4" y2="717.2" stroke="#3a3a3a" stroke-width="0.9"/>
<line x1="338.4" y1="684.2" x2="365.4" y2="684.2" stroke="#3a3a3a" stroke-width="0.9"/>
<line x1="338.4" y1="710.9" x2="365.4" y2="710.9" stroke="#3a3a3a" stroke-width="0.9"/>
<polygon points="348.5,684.2 347.5,676.7 349.5,676.7" fill="#3a3a3a"/>
<polygon points="348.5,710.9 349.5,718.4 347.5,718.4" fill="#3a3a3a"/>
<line x1="358.4" y1="697.8" x2="371.2" y2="697.8" stroke="#1e1e1e" stroke-width="1.3"/>
<line x1="396.4" y1="697.8" x2="405.8" y2="697.8" stroke="#1e1e1e" stroke-width="1.3"/>
<line x1="393.1" y1="680" x2="393.1" y2="715.8" stroke="#3a3a3a" stroke-width="0.9"/>
<polygon points="393.1,680 394.1,687.5 392.1,687.5" fill="#3a3a3a"/>
<polygon points="393.1,715.8 392.1,708.3 394.1,708.3" fill="#3a3a3a"/>
<polygon points="393.1,697.8 392.1,691.3 394.1,691.3" fill="#3a3a3a"/>
<polygon points="393.1,697.8 394.1,704.3 392.1,704.3" fill="#3a3a3a"/>
<line x1="389" y1="697.8" x2="396.4" y2="697.8" stroke="#3a3a3a" stroke-width="0.9"/>
<line x1="426.3" y1="677.9" x2="426.3" y2="717.2" stroke="#3a3a3a" stroke-width="0.9"/>
<polygon points="426.3,677.9 427.3,685.4 425.3,685.4" fill="#3a3a3a"/>
<polygon points="426.3,717.2 425.3,709.7 427.3,709.7" fill="#3a3a3a"/>
<line x1="370" y1="719" x2="370" y2="751.6" stroke="#3a3a3a" stroke-width="0.9"/>
<line x1="402.6" y1="724" x2="402.6" y2="751.6" stroke="#3a3a3a" stroke-width="0.9"/>
<line x1="370" y1="741.6" x2="402.6" y2="741.6" stroke="#3a3a3a" stroke-width="0.9"/>
<polygon points="370,741.6 377.5,740.6 377.5,742.6" fill="#3a3a3a"/>
<polygon points="402.6,741.6 395.1,742.6 395.1,740.6" fill="#3a3a3a"/>
<line x1="402.6" y1="725.2" x2="414.2" y2="747.4" stroke="#3a3a3a" stroke-width="0.9"/>
<line x1="414.2" y1="747.4" x2="461.6" y2="747.4" stroke="#3a3a3a" stroke-width="0.9"/>
<text x="431.2" y="741.6" font-size="15.5" letter-spacing="1" fill="#2e2e2e" style="font-family:'Liberation Sans','Noto Sans CJK SC',sans-serif">角钢</text>
<text x="346.5" y="790.5" font-size="19" font-weight="bold" fill="#1a1a1a" style="font-family:'Liberation Serif','Noto Serif CJK SC',serif">进料口尺寸</text>
<rect x="508.5" y="647.4" width="70.5" height="71.2" rx="0" fill="none" stroke="#1e1e1e" stroke-width="2.8"/>
<rect x="514" y="653.4" width="60.2" height="59.6" rx="0" fill="none" stroke="#1e1e1e" stroke-width="1.6"/>
<rect x="511.4" y="650.6" width="65.2" height="65.2" rx="0" fill="none" stroke="#666" stroke-width="0.7" stroke-dasharray="5 1.5 1.5 1.5"/>
<line x1="543.6" y1="639.8" x2="543.6" y2="724.8" stroke="#3a3a3a" stroke-width="0.8" stroke-dasharray="10 2.5 2.5 2.5"/>
<line x1="496.8" y1="683" x2="617.4" y2="683" stroke="#3a3a3a" stroke-width="0.8" stroke-dasharray="10 2.5 2.5 2.5"/>
<line x1="486.2" y1="653.5" x2="507" y2="653.5" stroke="#3a3a3a" stroke-width="0.9"/>
<line x1="486.2" y1="711.8" x2="507" y2="711.8" stroke="#3a3a3a" stroke-width="0.9"/>
<line x1="499.3" y1="653.5" x2="499.3" y2="711.8" stroke="#3a3a3a" stroke-width="0.9"/>
<polygon points="499.3,653.5 500.45,664 498.15,664" fill="#3a3a3a"/>
<polygon points="499.3,711.8 498.15,701.3 500.45,701.3" fill="#3a3a3a"/>
<line x1="513.8" y1="702" x2="575.2" y2="702" stroke="#3a3a3a" stroke-width="0.9"/>
<polygon points="513.8,702 524.3,700.85 524.3,703.15" fill="#3a3a3a"/>
<polygon points="575.2,702 564.7,703.15 564.7,700.85" fill="#3a3a3a"/>
<line x1="511" y1="719.6" x2="511" y2="753.6" stroke="#3a3a3a" stroke-width="0.9"/>
<line x1="576.5" y1="719.6" x2="576.5" y2="753.6" stroke="#3a3a3a" stroke-width="0.9"/>
<line x1="511" y1="742.3" x2="576.5" y2="742.3" stroke="#3a3a3a" stroke-width="0.9"/>
<polygon points="511,742.3 521.5,741.15 521.5,743.45" fill="#3a3a3a"/>
<polygon points="576.5,742.3 566,743.45 566,741.15" fill="#3a3a3a"/>
<line x1="604" y1="626.5" x2="604" y2="753.6" stroke="#3a3a3a" stroke-width="0.9"/>
<line x1="600" y1="659.3" x2="617" y2="659.3" stroke="#3a3a3a" stroke-width="0.9"/>
<line x1="600" y1="706.4" x2="617" y2="706.4" stroke="#3a3a3a" stroke-width="0.9"/>
<polygon points="604,649.3 602.85,638.8 605.15,638.8" fill="#3a3a3a"/>
<polygon points="604,659.3 605.15,669.8 602.85,669.8" fill="#3a3a3a"/>
<polygon points="604,682.9 602.85,672.4 605.15,672.4" fill="#3a3a3a"/>
<polygon points="604,682.9 605.15,693.4 602.85,693.4" fill="#3a3a3a"/>
<polygon points="604,706.4 602.85,695.9 605.15,695.9" fill="#3a3a3a"/>
<polygon points="604,714.8 605.15,725.3 602.85,725.3" fill="#3a3a3a"/>
<line x1="580.5" y1="649.3" x2="654" y2="649.3" stroke="#3a3a3a" stroke-width="0.9"/>
<line x1="580.5" y1="714.8" x2="654" y2="714.8" stroke="#3a3a3a" stroke-width="0.9"/>
<line x1="639.4" y1="649.3" x2="639.4" y2="714.8" stroke="#3a3a3a" stroke-width="0.9"/>
<polygon points="639.4,649.3 640.55,659.8 638.25,659.8" fill="#3a3a3a"/>
<polygon points="639.4,714.8 638.25,704.3 640.55,704.3" fill="#3a3a3a"/>
<line x1="580.3" y1="718.6" x2="606.8" y2="761.8" stroke="#3a3a3a" stroke-width="0.9"/>
<line x1="606.8" y1="761.8" x2="657.8" y2="761.8" stroke="#3a3a3a" stroke-width="0.9"/>
<text x="626.8" y="755.3" font-size="18" letter-spacing="2" fill="#2e2e2e" style="font-family:'Liberation Sans','Noto Sans CJK SC',sans-serif">角钢</text>
<text x="513.5" y="790.5" font-size="18.5" font-weight="bold" fill="#1a1a1a" style="font-family:'Liberation Serif','Noto Serif CJK SC',serif">出料口尺寸</text>
</g>
<g filter="url(#tsoft)">
<text transform="translate(328.3 137.7) rotate(0) scale(1.029 1)" font-family="'Liberation Sans', sans-serif" font-size="9.16" font-weight="normal" fill="#4a4a4a">D</text>
<text transform="translate(243.1 381.8) rotate(-90) scale(0.854 1)" font-family="'Liberation Sans', sans-serif" font-size="10.32" font-weight="normal" fill="#4a4a4a">L</text>
<text transform="translate(259 212.5) rotate(-90) scale(1.114 1)" font-family="'Liberation Sans', sans-serif" font-size="9.6" font-weight="normal" fill="#4a4a4a">L0</text>
<text transform="translate(277.6 228.8) rotate(-90) scale(1.048 1)" font-family="'Liberation Sans', sans-serif" font-size="9.01" font-weight="normal" fill="#4a4a4a">L1</text>
<text transform="translate(371 213.21) rotate(0) scale(0.901 1)" font-family="'Liberation Sans', sans-serif" font-size="8.88" font-weight="normal" fill="#4a4a4a">45</text>
<text x="381.4" y="212.8" font-family="'Liberation Sans', sans-serif" font-size="7.5" font-weight="normal" fill="#4a4a4a" text-anchor="middle">°</text>
<text transform="translate(331.3 228.9) rotate(0) scale(0.994 1)" font-family="'Liberation Sans', sans-serif" font-size="8.72" font-weight="normal" fill="#4a4a4a">A1</text>
<text transform="translate(294.8 423.9) rotate(0) scale(0.980 1)" font-family="'Liberation Sans', sans-serif" font-size="8.72" font-weight="bold" fill="#111">A</text>
<text transform="translate(270.3 485.9) rotate(-90) scale(1.055 1)" font-family="'Liberation Sans', sans-serif" font-size="9.89" font-weight="normal" fill="#4a4a4a">L2</text>
<text transform="translate(298.2 534.71) rotate(0) scale(0.878 1)" font-family="'Liberation Sans', sans-serif" font-size="8.76" font-weight="normal" fill="#222">A3</text>
<text transform="translate(265.9 578) rotate(-90) scale(0.918 1)" font-family="'Liberation Sans', sans-serif" font-size="9.89" font-weight="normal" fill="#4a4a4a">H2</text>
<text transform="translate(370.2 567.1) rotate(-90) scale(1.008 1)" font-family="'Liberation Sans', sans-serif" font-size="10.17" font-weight="normal" fill="#4a4a4a">L3</text>
<text transform="translate(388.2 587.1) rotate(-90) scale(0.971 1)" font-family="'Liberation Sans', sans-serif" font-size="9.75" font-weight="normal" fill="#4a4a4a">H3</text>
<text transform="translate(388.4 207.9) rotate(-90) scale(0.807 1)" font-family="'Liberation Sans', sans-serif" font-size="10.17" font-weight="normal" fill="#4a4a4a">H1</text>
<text transform="translate(388.1 388.2) rotate(-90) scale(0.979 1)" font-family="'Liberation Sans', sans-serif" font-size="9.75" font-weight="normal" fill="#4a4a4a">H0</text>
<text transform="translate(410 398.1) rotate(-90) scale(0.881 1)" font-family="'Liberation Sans', sans-serif" font-size="9.59" font-weight="normal" fill="#4a4a4a">H</text>
<text transform="translate(443.2 154.6) rotate(0) scale(0.637 1)" font-family="'Liberation Sans', sans-serif" font-size="9.59" font-weight="normal" fill="#4a4a4a">1</text>
<text transform="translate(442.2 222.7) rotate(0) scale(0.951 1)" font-family="'Liberation Sans', sans-serif" font-size="9.46" font-weight="normal" fill="#4a4a4a">2</text>
<text transform="translate(446.9 284.1) rotate(0) scale(0.910 1)" font-family="'Liberation Sans', sans-serif" font-size="9.88" font-weight="normal" fill="#4a4a4a">4</text>
<text transform="translate(442.5 324.9) rotate(0) scale(0.918 1)" font-family="'Liberation Sans', sans-serif" font-size="9.6" font-weight="normal" fill="#4a4a4a">3</text>
<text transform="translate(444.3 541.31) rotate(0) scale(0.981 1)" font-family="'Liberation Sans', sans-serif" font-size="9.17" font-weight="normal" fill="#4a4a4a">5</text>
<text transform="translate(553.9 146.3) rotate(0) scale(1.072 1)" font-family="'Liberation Sans', sans-serif" font-size="9.16" font-weight="normal" fill="#4a4a4a">B1</text>
<text transform="translate(552.9 344.6) rotate(0) scale(0.999 1)" font-family="'Liberation Sans', sans-serif" font-size="9.17" font-weight="normal" fill="#4a4a4a">B2</text>
<text transform="translate(241.4 643.67) rotate(0) scale(1.124 1)" font-family="'Liberation Sans', sans-serif" font-size="13.14" font-weight="normal" fill="#2e2e2e">M6</text>
<text transform="translate(295.83 717.7) rotate(-90) scale(0.987 1)" font-family="'Liberation Sans', sans-serif" font-size="17.23" font-weight="normal" fill="#2e2e2e">P6</text>
<text transform="translate(218 731.07) rotate(0) scale(1.158 1)" font-family="'Liberation Sans', sans-serif" font-size="12.99" font-weight="normal" fill="#2e2e2e">M6</text>
<text transform="translate(247.1 752.37) rotate(0) scale(1.089 1)" font-family="'Liberation Sans', sans-serif" font-size="13.42" font-weight="normal" fill="#2e2e2e">M6</text>
<text transform="translate(407.8 640.97) rotate(0) scale(1.141 1)" font-family="'Liberation Sans', sans-serif" font-size="13.42" font-weight="normal" fill="#2e2e2e" letter-spacing="0.81">N3XM3</text>
<text transform="translate(324.3 656.9) rotate(0) scale(1.034 1)" font-family="'Liberation Sans', sans-serif" font-size="13.81" font-weight="normal" fill="#2e2e2e" letter-spacing="0.55">M4</text>
<text transform="translate(343.54 767.3) rotate(-90) scale(0.934 1)" font-family="'Liberation Sans', sans-serif" font-size="16.38" font-weight="normal" fill="#2e2e2e" letter-spacing="0.98">N3XM3</text>
<text transform="translate(387.1 707.1) rotate(-90) scale(0.921 1)" font-family="'Liberation Sans', sans-serif" font-size="17.88" font-weight="normal" fill="#2e2e2e" letter-spacing="0.72">B4</text>
<text transform="translate(419.8 707.7) rotate(-90) scale(0.948 1)" font-family="'Liberation Sans', sans-serif" font-size="17.88" font-weight="normal" fill="#2e2e2e" letter-spacing="0.72">P4</text>
<text transform="translate(377.7 736.55) rotate(0) scale(1.152 1)" font-family="'Liberation Sans', sans-serif" font-size="14.61" font-weight="normal" fill="#2e2e2e" letter-spacing="0.88">A5</text>
<text transform="translate(412.4 739.85) rotate(0) scale(1.114 1)" font-family="'Liberation Sans', sans-serif" font-size="14.69" font-weight="normal" fill="#2e2e2e">50</text>
<text transform="translate(491.18 695.5) rotate(-90) scale(1.002 1)" font-family="'Liberation Sans', sans-serif" font-size="21.89" font-weight="normal" fill="#2e2e2e" letter-spacing="0.88">B3</text>
<text transform="translate(530.2 695.6) rotate(0) scale(1.027 1)" font-family="'Liberation Sans', sans-serif" font-size="18.75" font-weight="normal" fill="#2e2e2e" letter-spacing="1.5">A4</text>
<text transform="translate(527.6 738.8) rotate(0) scale(1.004 1)" font-family="'Liberation Sans', sans-serif" font-size="18.19" font-weight="normal" fill="#2e2e2e" letter-spacing="0.73">M2</text>
<text transform="translate(598.3 710.3) rotate(-90) scale(0.972 1)" font-family="'Liberation Sans', sans-serif" font-size="22.24" font-weight="normal" fill="#2e2e2e" letter-spacing="0.67">P1P1</text>
<text transform="translate(633.8 695.2) rotate(-90) scale(0.990 1)" font-family="'Liberation Sans', sans-serif" font-size="23.35" font-weight="normal" fill="#2e2e2e" letter-spacing="0.93">P2</text>
<text transform="translate(605.1 755.1) rotate(0) scale(0.959 1)" font-family="'Liberation Sans', sans-serif" font-size="19.77" font-weight="normal" fill="#2e2e2e">63</text>
</g>
</svg>
</body>
</html>
